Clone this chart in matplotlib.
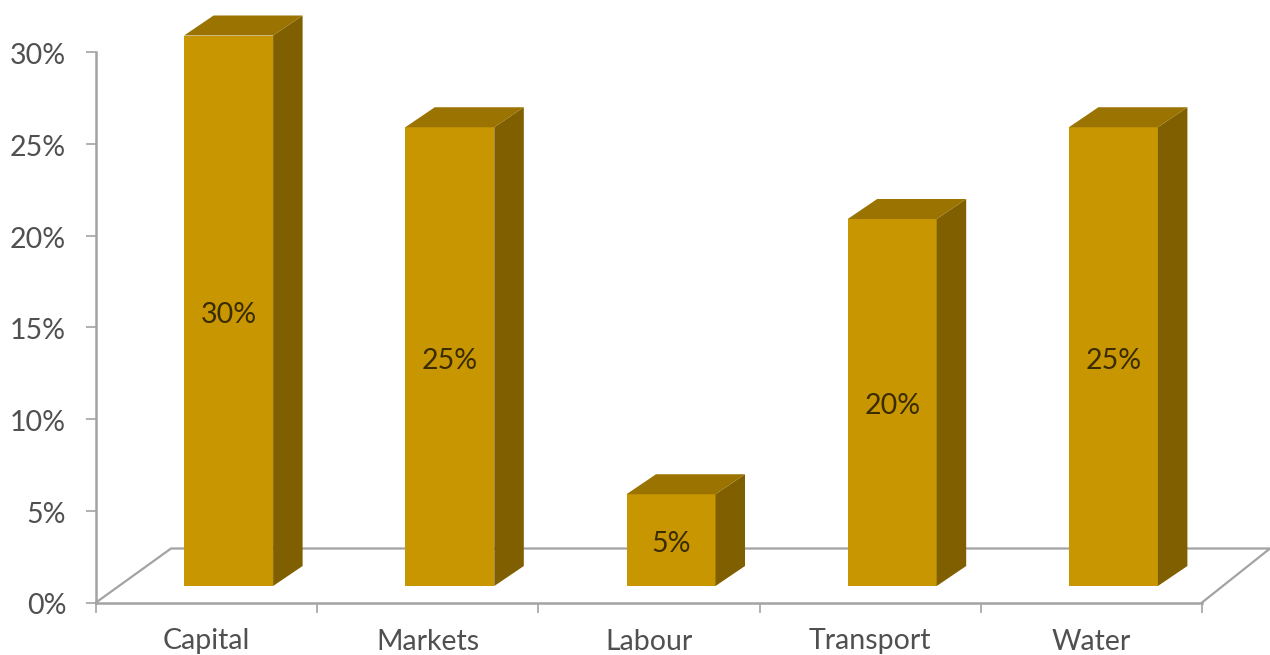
import matplotlib
matplotlib.use("Agg")
import matplotlib.pyplot as plt
from matplotlib.patches import Polygon
from matplotlib.transforms import ScaledTranslation

categories = ["Capital", "Markets", "Labour", "Transport", "Water"]
values = [30, 25, 5, 20, 25]
yticks = [0, 5, 10, 15, 20, 25, 30]

W, H = 1270, 655
plt.rcParams["font.family"] = ["Lato", "DejaVu Sans"]

fig = plt.figure(figsize=(W / 100, H / 100), dpi=100)
# axes box = the front plane of the old 3d chart, in pixels
left, right, top, bottom = 96, 1202, 52, 602.5
ax = fig.add_axes([left / W, 1 - bottom / H, (right - left) / W, (bottom - top) / H])
ax.set_xlim(0, len(categories))
ax.set_ylim(0, 30)

# pixel sizes in data units
px = len(categories) / (right - left)
py = 30 / (bottom - top)

gray = "#A3A3A3"
text_gray = "#505050"
for s in ["top", "right"]:
    ax.spines[s].set_visible(False)
for s in ["left", "bottom"]:
    ax.spines[s].set_color(gray)
    ax.spines[s].set_linewidth(1.8)

ax.set_yticks(yticks)
ax.set_yticklabels([str(v) + "%" for v in yticks], fontsize=20.5, color=text_gray)
ax.set_xticks(range(len(categories) + 1))
ax.set_xticklabels([])
ax.tick_params(axis="both", length=7.5, width=1.2, color=gray)
ax.tick_params(axis="y", pad=14)
for lab in ax.get_yticklabels():
    lab.set_transform(lab.get_transform() + ScaledTranslation(0, -1.5 / 100, fig.dpi_scale_trans))

for i, c in enumerate(categories):
    ax.text(i + 0.5, -39 * py, c, ha="center", va="center", fontsize=20.5, color=text_gray, clip_on=False)

# floor
floor_dx, floor_dy = 75 * px, 54 * py
floor_x = [0, floor_dx, len(categories) + floor_dx - 7 * px, len(categories)]
floor_y = [0, floor_dy, floor_dy, 0]
ax.plot(floor_x, floor_y, color=gray, lw=1.6, clip_on=False, zorder=1, solid_joinstyle="miter")

# bars
bar_w = 89 * px
bar_shift = 22 * px
base = 16.5 * py
depth_x, depth_y = 29.5 * px, 20 * py
for i, v in enumerate(values):
    x0 = i + 0.5 + bar_shift - bar_w / 2
    x1 = x0 + bar_w
    y0 = base
    y1 = base + v
    ax.bar(x0, v, width=bar_w, bottom=base, align="edge", color="#C89600", zorder=3, clip_on=False)
    side = [(x1, y0), (x1 + depth_x, y0 + depth_y), (x1 + depth_x, y1 + depth_y), (x1, y1)]
    roof = [(x0, y1), (x0 + depth_x, y1 + depth_y), (x1 + depth_x, y1 + depth_y), (x1, y1)]
    ax.add_patch(Polygon(side, closed=True, facecolor="#7F5F00", edgecolor="none", zorder=3, clip_on=False))
    ax.add_patch(Polygon(roof, closed=True, facecolor="#9A7300", edgecolor="none", zorder=3, clip_on=False))
    ax.text((x0 + x1) / 2, base + v / 2 - 4 * py, str(v) + "%", ha="center", va="center", fontsize=20.5, color="#3A2C00", zorder=4)

fig.savefig("out.png", dpi=100)
